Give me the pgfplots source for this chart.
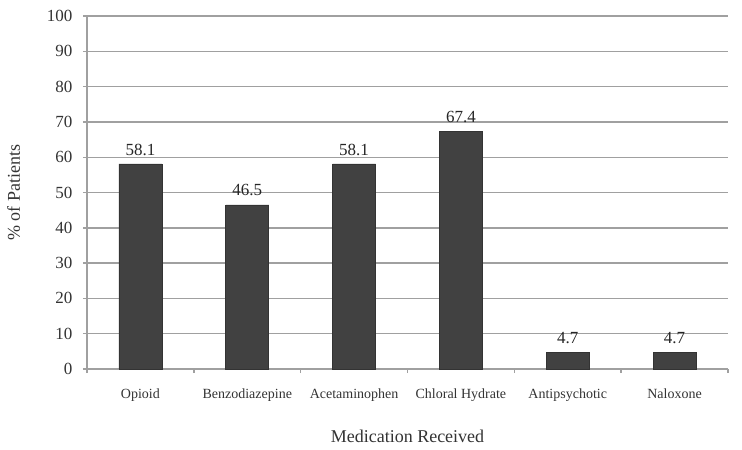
\documentclass[border=0pt]{standalone}
\usepackage{pgfplots}
\pgfplotsset{compat=1.18}
\usepackage{fontspec}
\setmainfont{Liberation Serif}
\definecolor{barfill}{HTML}{414141}
\definecolor{gridgray}{HTML}{A0A0A0}
\begin{document}
\begin{tikzpicture}
\begin{axis}[
    scale only axis,
    width=641bp, height=353bp,
    ymin=0, ymax=100,
    ytick={0,10,...,100},
    xmin=-0.5, xmax=5.5,
    xtick={0,...,5},
    xticklabels={Opioid,Benzodiazepine,Acetaminophen,Chloral Hydrate,Antipsychotic,Naloxone},
    minor xtick={-0.5,0.5,...,5.5},
    major x tick style={draw=none},
    minor tick length=4bp,
    major tick length=4bp,
    tick align=outside,
    tick style={gridgray, line width=1.4bp},
    axis x line*=bottom,
    axis y line*=left,
    axis line style={gridgray, line width=1.4bp},
    ymajorgrids,
    grid style={gridgray, line width=1.4bp},
    /pgf/number format/assume math mode=true,
    yticklabel style={font=\fontsize{17bp}{19bp}\selectfont, color=black!80, xshift=-7bp},
    xticklabel style={font=\fontsize{14bp}{16bp}\selectfont, color=black!80, yshift=-12bp},
    ylabel={\% of Patients},
    xlabel={Medication Received},
    label style={font=\fontsize{18bp}{20bp}\selectfont, color=black!80},
    xlabel style={yshift=-22bp},
    ylabel style={yshift=20bp},
    ybar, bar width=43bp,
    nodes near coords,
    every node near coord/.append style={font=\fontsize{17bp}{19bp}\selectfont, color=black!85, yshift=5bp, /pgf/number format/fixed, /pgf/number format/precision=1, /pgf/number format/fixed zerofill},
    clip=false,
]
\addplot[fill=barfill, draw=black!80, line width=0.6bp] coordinates {
    (0,58.1) (1,46.5) (2,58.1) (3,67.4) (4,4.7) (5,4.7)
};
\end{axis}
\pgfresetboundingbox
\path (current axis.south west) ++(-87bp,-80bp) coordinate (bbsw);
\path (current axis.north east) ++(14bp,16bp) coordinate (bbne);
\useasboundingbox (bbsw) rectangle (bbne);
\end{tikzpicture}
\end{document}
